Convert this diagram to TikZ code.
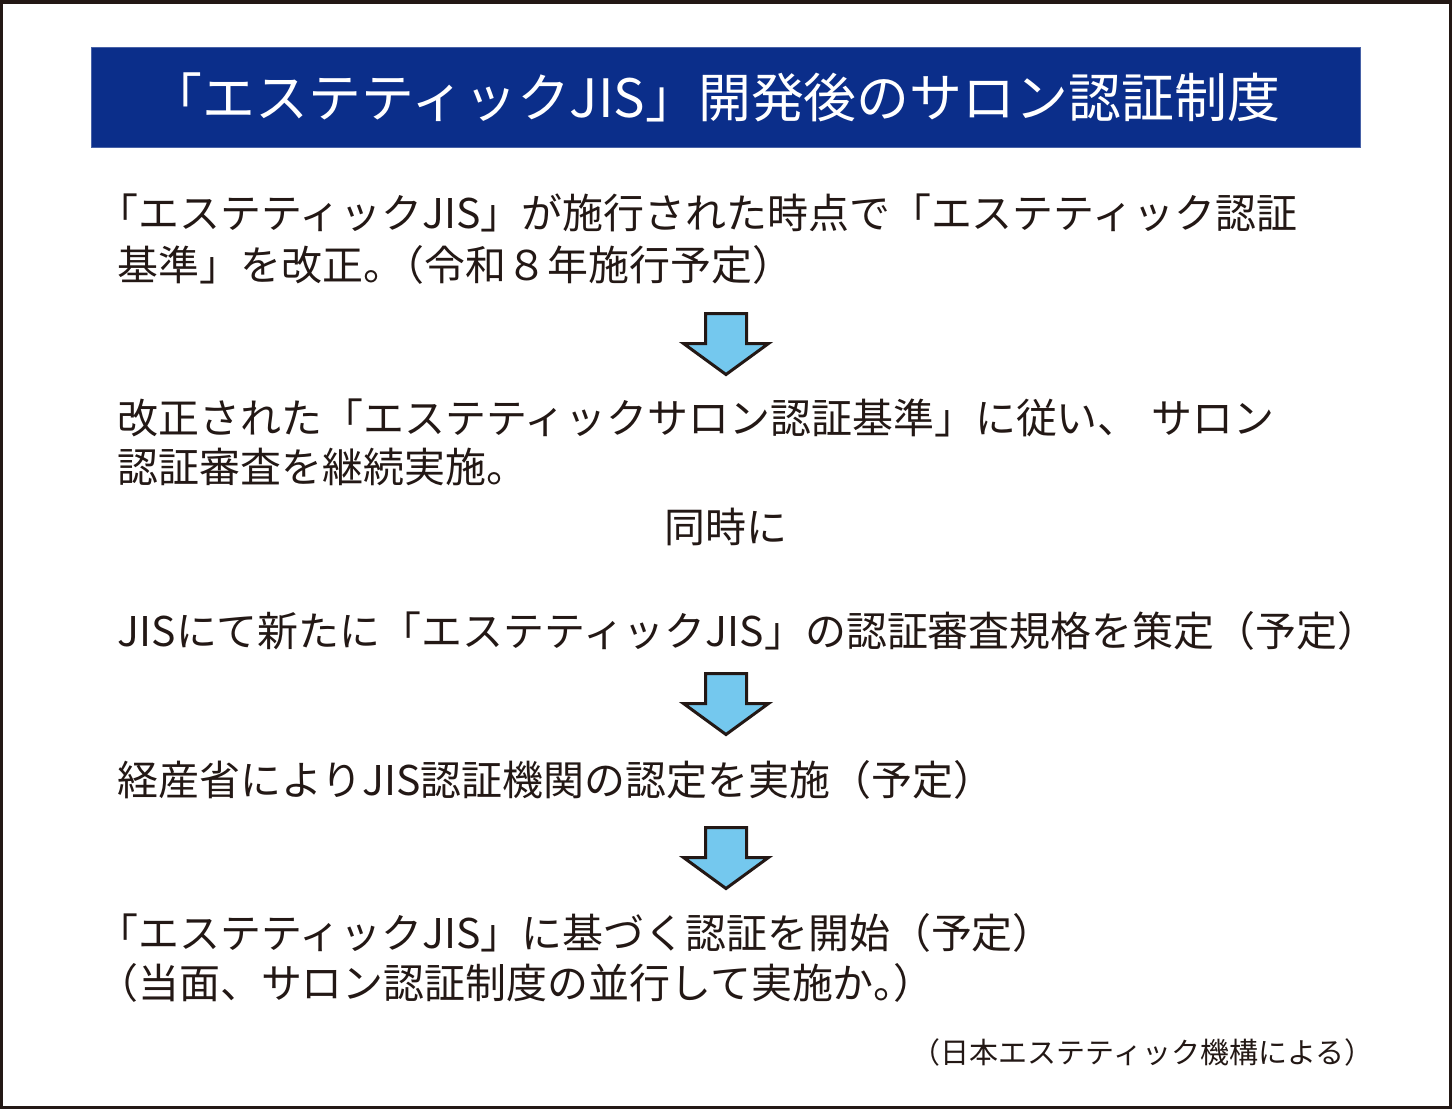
\documentclass[tikz,border=0pt]{standalone}
\usepackage{xcolor}
\usepackage{fontspec}
\setmainfont{Noto Sans CJK JP}
\usepackage{tikz}
\usetikzlibrary{positioning,calc}
\definecolor{HeadBlue}{RGB}{11,46,138}
\definecolor{ArrowBlue}{RGB}{116,200,238}
\definecolor{InkBlack}{RGB}{35,24,21}
\tikzset{
    bodyline/.style={anchor=base west, inner sep=0pt, text=InkBlack, font=\fontsize{11.65}{14}\selectfont},
    arrowbox/.style={draw=InkBlack, fill=ArrowBlue, line width=0.3mm, line join=miter},
    fatarrow/.pic={
        \draw[arrowbox] (-20.5,0) -- (20.5,0) -- (20.5,30) -- (42.5,30) -- (0,61) -- (-42.5,30) -- (-20.5,30) -- cycle;
    }
}

\begin{document}
\begin{tikzpicture}[
                x=0.1mm, y=-0.1mm,
                % header bar
                titlebar/.style={
                    fill=HeadBlue,
                    draw=HeadBlue!75!white,
                    line width=0.1mm,
                    minimum width=127mm,
                    minimum height=10mm,
                    inner sep=0pt
                },
                % header text
                titletext/.style={
                    text=white,
                    font=\fontsize{15.05}{17}\selectfont,
                    inner sep=0pt
                },
                % outer frame
                frame/.style={
                    draw=InkBlack,
                    line width=0.35mm
                },
                % source note
                sourcenote/.style={
                    anchor=base east, inner sep=0pt, text=InkBlack,
                    font=\fontsize{8.25}{10}\selectfont
                }
            ]
                \useasboundingbox (0,0) rectangle (1452,1109);
                \draw[frame] (1.75,1.75) rectangle (1450.25,1107.25);

                % --- TITLE ---
                \node[titlebar] (title) at (726,97) {};
                \node[titletext] (titletxt) at ([xshift=-1.1mm]title.center) {「エステティックJIS」開発後のサロン認証制度};

                % --- STEPS ---
                \node[bodyline] (l1a) at (117,228) {\kern-.5em「エステティックJIS」が施行された時点で「エステティック認証};
                \node[bodyline] (l1b) at (117,280) {基準」を改正。\kern-.5em（令和８年施行予定）};

                \coordinate (a1) at (726,313.5);
                \pic at (a1) {fatarrow};

                \node[bodyline] (l2a) at (117,433) {改正された「エステティックサロン認証基準」に従い、\kern.3em サロン};
                \node[bodyline] (l2b) at (117,482) {認証審査を継続実施。};

                % "at the same time"
                \node[bodyline, anchor=base] (same) at (726,542) {同時に};

                \node[bodyline] (l3) at (117,646) {JISにて新たに「エステティックJIS」の認証審査規格を策定（予定）};

                \coordinate (a2) at (726,673.5);
                \pic at (a2) {fatarrow};

                \node[bodyline] (l4) at (117,795) {経産省によりJIS認証機関の認定を実施（予定）};

                \coordinate (a3) at (726,827.5);
                \pic at (a3) {fatarrow};

                \node[bodyline] (l5a) at (117,948) {\kern-.5em「エステティックJIS」に基づく認証を開始（予定）};
                \node[bodyline] (l5b) at (117,998) {\kern-.5em（当面、サロン認証制度の並行して実施か。\kern-.5em）};

                % --- SOURCE ---
                \node[sourcenote] (src) at (1374,1063) {（日本エステティック機構による）};

            \end{tikzpicture}
\end{document}
